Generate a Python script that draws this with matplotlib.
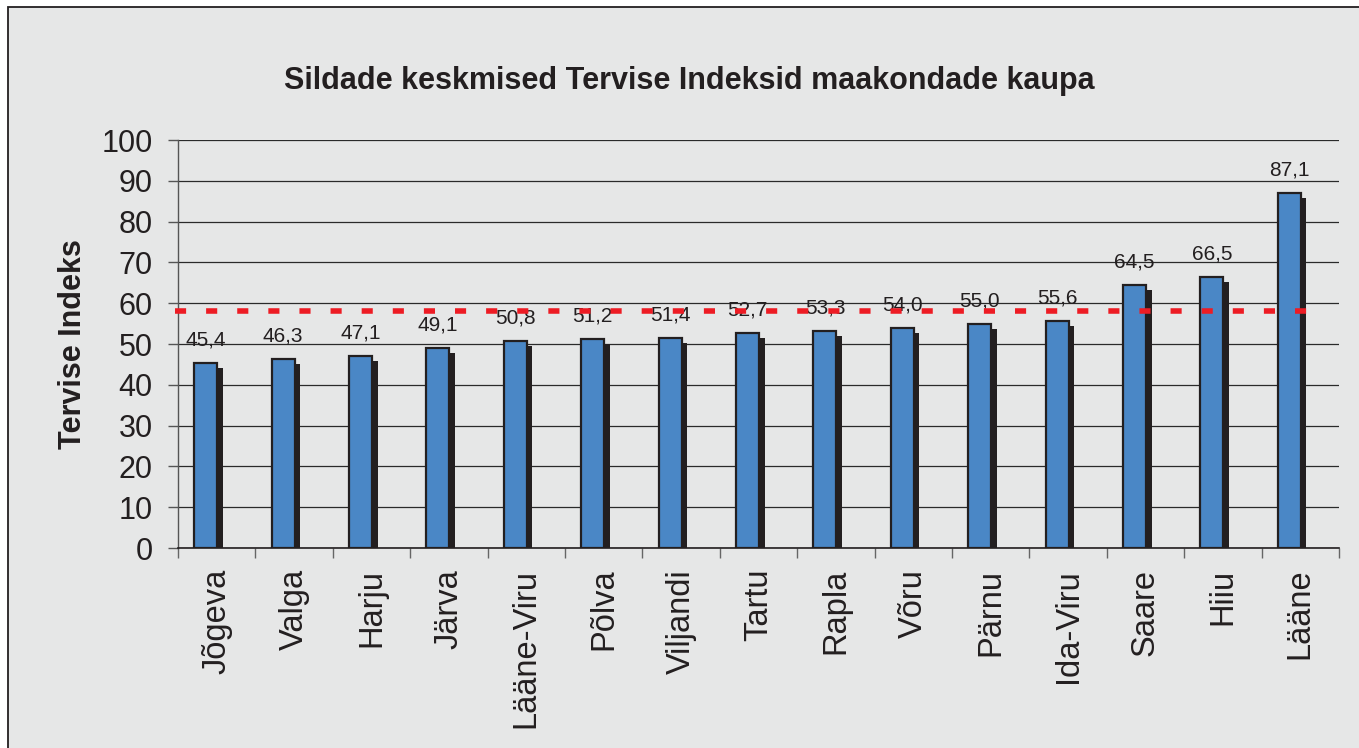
import numpy as np
import matplotlib
matplotlib.use('Agg')
import matplotlib.pyplot as plt
from matplotlib.patches import Rectangle

plt.rcParams['font.family'] = ['Liberation Sans', 'DejaVu Sans']

# andmed
maakonnad = ['Jõgeva', 'Valga', 'Harju', 'Järva', 'Lääne-Viru', 'Põlva', 'Viljandi',
             'Tartu', 'Rapla', 'Võru', 'Pärnu', 'Ida-Viru', 'Saare', 'Hiiu', 'Lääne']
indeksid = [45.4, 46.3, 47.1, 49.1, 50.8, 51.2, 51.4, 52.7, 53.3, 54.0, 55.0, 55.6, 64.5, 66.5, 87.1]
keskmine = 58.2

tekst = '#231f20'
taust = '#e6e7e7'
sinine = '#4a87c6'

fig = plt.figure(figsize=(13.59, 7.48), dpi=100)
fig.patch.set_facecolor('white')
# hall taust koos raamiga (üleval ja vasakul)
fig.patches.append(Rectangle((8 / 1359, -0.05), 1.2, 0.05 + 1 - 7.5 / 748,
                             transform=fig.transFigure, facecolor=taust,
                             edgecolor=tekst, linewidth=1.3, zorder=-1))

ax = fig.add_axes([178 / 1359, 1 - 548 / 748, (1339 - 178) / 1359, (548 - 140) / 748])
ax.set_facecolor(taust)

x = np.arange(len(maakonnad))
laius = 0.297
nihe = -0.142
# vari
ax.bar(x + nihe + 0.072, np.array(indeksid) - 1.25, width=laius, color=tekst,
       linewidth=0, zorder=2)
# tulbad
ax.bar(x + nihe, indeksid, width=laius, color=sinine, edgecolor=tekst,
       linewidth=1.6, zorder=3)

for xi, v in zip(x, indeksid):
    ax.annotate(f'{v:.1f}'.replace('.', ','), (xi + nihe, v), xytext=(0, 12.5),
                textcoords='offset points', ha='center', va='baseline',
                fontsize=15, color=tekst, zorder=5)

# keskmine joon
ax.axhline(keskmine, xmin=-0.003, xmax=0.985, color='#ed1c24', linewidth=4,
           dashes=(2.0, 3.6), dash_capstyle='butt', clip_on=False, zorder=6)

ax.set_ylim(0, 100)
ax.set_xlim(-0.5, len(maakonnad) - 0.5)
ax.set_yticks(range(0, 101, 10))
ax.yaxis.grid(True, color='#2a2a2a', linewidth=0.9)
ax.set_axisbelow(True)

ax.set_xticks(x)
ax.set_xticklabels(maakonnad, rotation=90, fontsize=23.5, color=tekst, va='top')
ax.set_xticks(np.arange(-0.5, len(maakonnad)), minor=True)
ax.tick_params(axis='x', which='major', length=0, pad=15)
ax.tick_params(axis='x', which='minor', length=7.2, width=1, color='#666666')
ax.tick_params(axis='y', length=7.2, width=1, color='#555555', labelsize=22,
               labelcolor=tekst, pad=11)

for s in ['top', 'right']:
    ax.spines[s].set_visible(False)
ax.spines['left'].set_color('#555555')
ax.spines['left'].set_linewidth(1)
ax.spines['bottom'].set_color(tekst)
ax.spines['bottom'].set_linewidth(1.2)

ax.set_ylabel('Tervise Indeks', fontsize=22, fontweight='bold', color=tekst, labelpad=10)
fig.text(689 / 1359, 1 - 88.5 / 748, 'Sildade keskmised Tervise Indeksid maakondade kaupa',
         ha='center', va='baseline', fontsize=22, fontweight='bold', color=tekst)

fig.savefig('out.png', dpi=100)
